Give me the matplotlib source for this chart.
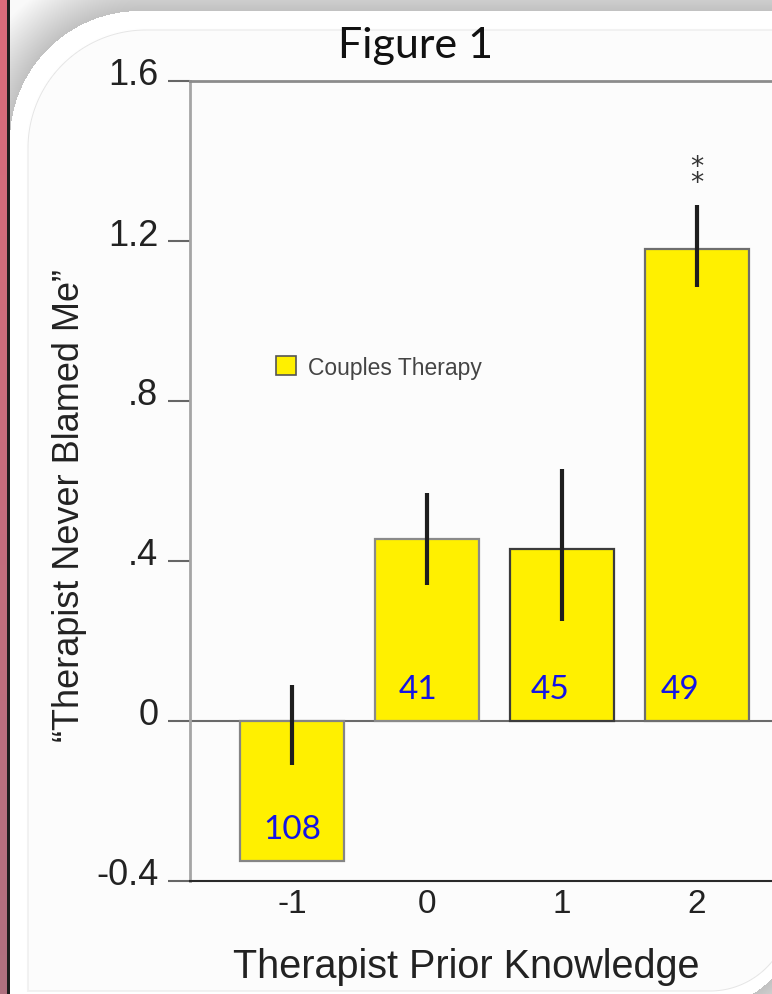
import numpy as np
import matplotlib
matplotlib.use("Agg")
import matplotlib.pyplot as plt
from matplotlib.patches import Patch
from matplotlib.transforms import ScaledTranslation

# ---- data -------------------------------------------------------------
knowledge = [-1, 0, 1, 2]
tick_text = ["-1", "0", "1", "2"]
mean_score = [-0.35, 0.455, 0.43, 1.18]
ci_low = [-0.11, 0.34, 0.25, 1.085]
ci_high = [0.09, 0.57, 0.63, 1.29]
group_n = [108, 41, 45, 49]
significance = ["", "", "", "**"]
y_ticks = [-0.4, 0.0, 0.4, 0.8, 1.2, 1.6]
y_tick_text = ["-0.4", "0", ".4", ".8", "1.2", "1.6"]
series_name = "Couples Therapy"

W, H, DPI = 772, 995, 100
plt.rcParams["font.family"] = ["Liberation Sans", "DejaVu Sans"]

fig = plt.figure(figsize=(W / DPI, H / DPI), dpi=DPI)


# ---- slide-style background: red strip, shadowed rounded panel --------
def rr_dist(X, Y, x0, y0, x1, y1, r):
    cx = np.clip(X, x0 + r, x1 - r)
    cy = np.clip(Y, y0 + r, y1 - r)
    return np.hypot(X - cx, Y - cy) - r


Y, X = np.mgrid[0:H, 0:W].astype(float) + 0.5
img = np.ones((H, W, 3))

outer = np.maximum(rr_dist(X, Y, 10, 12, 1400, 1400, 130),
                   rr_dist(X, Y, -400, -400, 800, 1010, 100))
shade = 0.76 + 0.22 * np.clip(outer / 50.0, 0, 1)
out_mask = outer > 0
for c in range(3):
    img[..., c][out_mask] = shade[out_mask]

inner = np.maximum(rr_dist(X, Y, 28, 31, 1400, 1400, 118),
                   rr_dist(X, Y, -400, -400, 790, 992, 80))
in_mask = inner <= 0
img[in_mask] = 0.99
edge = np.clip(1.0 - np.abs(inner), 0, 1)[..., None]
img = img * (1 - edge) + np.array([0.90, 0.90, 0.90]) * edge

t = np.linspace(0, 1, H)[:, None]
top_red = np.array([0.86, 0.42, 0.48])
bot_red = np.array([0.69, 0.44, 0.50])
red = top_red * (1 - t) + bot_red * t
img[:, :7, :] = red[:, None, :]
img[:, 7:10, :] = 0.12

bg = fig.add_axes([0, 0, 1, 1], zorder=-10)
bg.imshow(img, extent=(0, W, H, 0), aspect="auto", interpolation="bilinear")
bg.set_axis_off()

# ---- chart ------------------------------------------------------------
ax = fig.add_axes([190 / W, (H - 882) / H, (W - 190) / W, 800 / H])
ax.patch.set_alpha(0)
ax.set_ylim(-0.4, 1.6)
ax.set_xlim(-1.756, 2.556)

ax.axhline(0, color="#6a6a6a", lw=1.5, zorder=1)
ax.bar(knowledge, mean_score, width=0.77, color="#FFF000",
       edgecolor=["#858585", "#8a8a8a", "#3c3c3c", "#6e6e6e"],
       linewidth=1.6, zorder=2)
ax.vlines(knowledge, ci_low, ci_high, color="#1e1e1e", lw=3, zorder=3)

nudge_px = [0, -9, -12, -17]
for x, v, n, dx in zip(knowledge, mean_score, group_n, nudge_px):
    ax.annotate(str(n), xy=(x, min(v, 0) + 0.08), xytext=(dx * 0.72, 0),
                textcoords="offset points", ha="center", va="center",
                fontsize=24, color="#1414e6", family=["Lato", "DejaVu Sans"],
                zorder=4)

# significance marks, asterisks stacked one above the other
for x, hi, s in zip(knowledge, ci_high, significance):
    if s:
        ax.annotate("\n".join(s), xy=(x, hi), xytext=(0, 30 * 0.72),
                    textcoords="offset points", ha="center", va="center",
                    fontsize=19, linespacing=0.5, color="#333333",
                    family=["DejaVu Sans"], zorder=4)

ax.set_xticks(knowledge)
ax.set_xticklabels(tick_text)
ax.set_yticks(y_ticks)
ax.set_yticklabels(y_tick_text)

ax.spines["right"].set_visible(False)
ax.spines["top"].set_color("#8c8c8c")
ax.spines["top"].set_linewidth(2)
ax.spines["left"].set_color("#a5a5a5")
ax.spines["left"].set_linewidth(2)
ax.spines["bottom"].set_color("#2a2a2a")
ax.spines["bottom"].set_linewidth(1.5)

ax.tick_params(axis="y", length=22 * 0.72, width=1.5, color="#666666",
               pad=7, labelsize=26, labelcolor="#222222")
ax.tick_params(axis="x", length=0, pad=5, labelsize=24,
               labelcolor="#222222")

lift = ScaledTranslation(0, 0.10, fig.dpi_scale_trans)
for lab in ax.get_yticklabels():
    lab.set_transform(lab.get_transform() + lift)

ax.legend(handles=[Patch(facecolor="#FFF000", edgecolor="#555555",
                         linewidth=1.2)],
          labels=[series_name], loc="center left",
          bbox_to_anchor=(276 / W, 1 - 368 / H),
          bbox_transform=fig.transFigure, frameon=False, fontsize=16.5,
          handlelength=0.87, handleheight=0.87, handletextpad=0.52,
          borderpad=0, borderaxespad=0, labelcolor="#444444")

fig.text(70 / W, 1 - 505 / H, "\u201cTherapist Never Blamed Me\u201d",
         rotation=90, ha="center", va="center", fontsize=26,
         color="#222222")
fig.text(466 / W, 1 - 978 / H, "Therapist Prior Knowledge",
         ha="center", va="baseline", fontsize=28.5, color="#222222")
fig.text(416 / W, 1 - 58 / H, "Figure 1", ha="center", va="baseline",
         fontsize=31, color="#111111", family=["Lato", "DejaVu Sans"])

fig.savefig("out.png", dpi=DPI)
